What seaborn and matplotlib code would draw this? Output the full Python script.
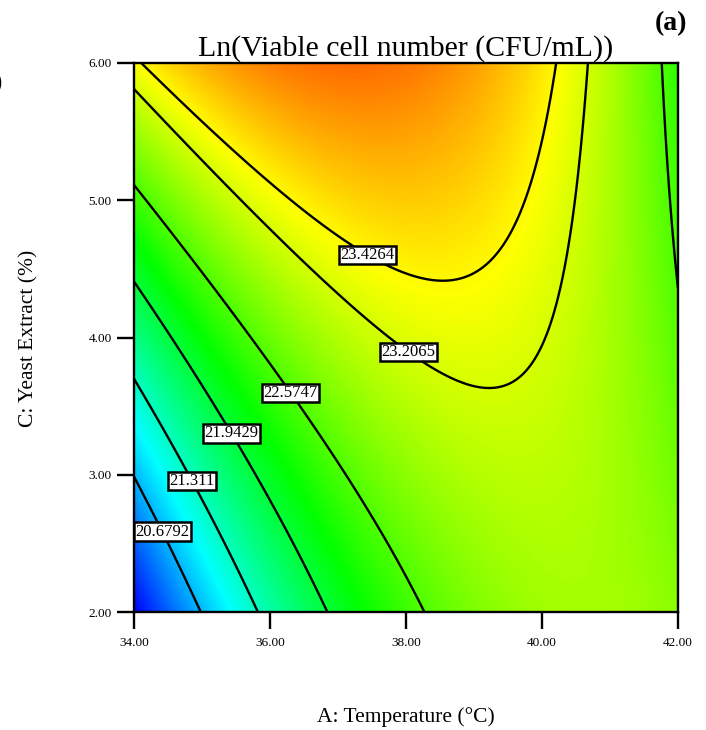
import numpy as np
import matplotlib
matplotlib.use("Agg")
import matplotlib.pyplot as plt
import seaborn as sns

# --- DATA (response surface) ---
temp_range = [34.0, 42.0]          # A: Temperature (°C)
yeast_range = [2.0, 6.0]           # C: Yeast Extract (%)
# coded quadratic model: b0, A, C, AC, A^2, C^2
model_coef = [23.2427, 0.5173, 0.7828, -1.0002, -1.1468, 0.0173]
contour_levels = [20.6792, 21.311, 21.9429, 22.5747, 23.2065, 23.4264]
label_temp = [34.43, 34.87, 35.46, 36.32, 38.06, 37.46]
label_yeast = [2.59, 2.96, 3.31, 3.60, 3.91, 4.62]
x_ticks = [34, 36, 38, 40, 42]
y_ticks = [2, 3, 4, 5, 6]

TITLE = "Ln(Viable cell number (CFU/mL))"


def surface(temp, yeast):
    a = (temp - np.mean(temp_range)) / (np.diff(temp_range)[0] / 2)
    c = (yeast - np.mean(yeast_range)) / (np.diff(yeast_range)[0] / 2)
    b0, b1, b2, b12, b11, b22 = model_coef
    return b0 + b1 * a + b2 * c + b12 * a * c + b11 * a ** 2 + b22 * c ** 2


def plot_contour():
    sns.set_theme(style="white")
    plt.rcParams['font.family'] = ['Liberation Serif', 'DejaVu Serif']
    plt.rcParams['text.color'] = 'black'
    plt.rcParams['axes.labelcolor'] = 'black'

    fig = plt.figure(figsize=(7.06, 7.30), dpi=100)
    ax = fig.add_axes([0.1898, 0.1616, 0.7705, 0.7521])

    t = np.linspace(*temp_range, 300)
    y = np.linspace(*yeast_range, 300)
    T, Y = np.meshgrid(t, y)
    Z = surface(T, Y)

    cmap = sns.blend_palette(["#0000ff", "#00ffff", "#00ff00", "#ffff00", "#ff0000"], as_cmap=True)
    ax.imshow(Z, origin='lower', extent=[*temp_range, *yeast_range], aspect='auto',
              cmap=cmap, vmin=19.81, vmax=24.6, interpolation='bilinear')

    cs = ax.contour(T, Y, Z, levels=contour_levels, colors='black', linewidths=1.7)
    fmt = {lv: f"{lv:g}" for lv in contour_levels}
    labels = ax.clabel(cs, manual=list(zip(label_temp, label_yeast)), inline=False,
                       fmt=fmt, fontsize=12)
    for lab in labels:
        lab.set_rotation(0)
        lab.set_color('black')
        lab.set_bbox(dict(boxstyle='square,pad=0.08', fc='white', ec='black', lw=1.8))

    ax.set_xlim(temp_range)
    ax.set_ylim(yeast_range)
    ax.set_xticks(x_ticks)
    ax.set_yticks(y_ticks)
    ax.set_xticklabels([f"{v:.2f}" for v in x_ticks])
    ax.set_yticklabels([f"{v:.2f}" for v in y_ticks])
    ax.tick_params(direction='out', length=12, width=1.7, colors='black', labelsize=9.5,
                   bottom=True, left=True)
    ax.tick_params(axis='x', pad=6)
    ax.tick_params(axis='y', pad=4)
    for sp in ax.spines.values():
        sp.set_color('black')
        sp.set_linewidth(1.7)

    ax.set_title(TITLE, fontsize=21.5, pad=5, color='black')
    fig.text(406 / 706, 1 - 717 / 730, "A: Temperature (°C)", ha='center', va='center', fontsize=15.5)
    fig.text(29 / 706, 1 - 338 / 730, "C: Yeast Extract (%)", ha='center', va='center',
             rotation=90, fontsize=15.5)
    fig.text(671 / 706, 1 - 24 / 730, "(a)", ha='center', va='center', fontsize=20, fontweight='bold')
    fig.text(-7 / 706, 1 - 83 / 730, ")", ha='left', va='center', fontsize=18)

    fig.savefig("out.png", dpi=100)


if __name__ == "__main__":
    plot_contour()
